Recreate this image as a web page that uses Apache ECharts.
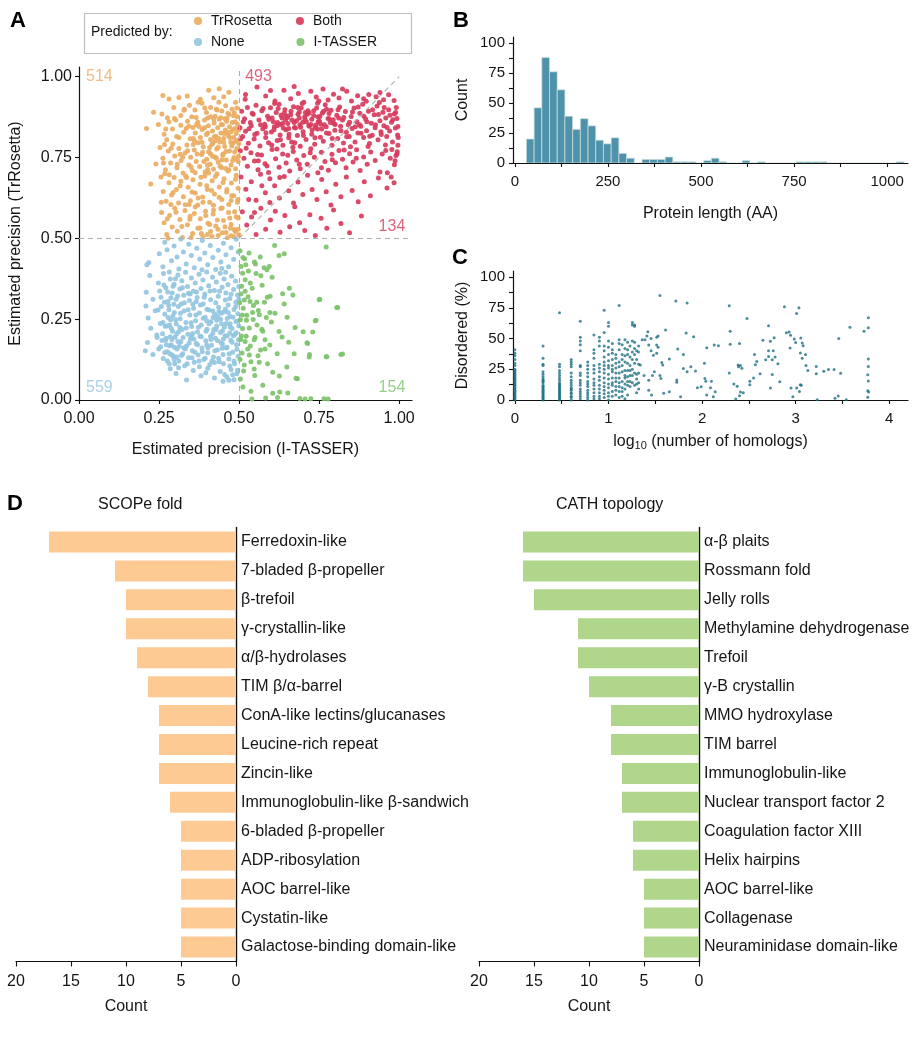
<!DOCTYPE html>
<html><head><meta charset="utf-8">
<script src="https://cdn.jsdelivr.net/npm/echarts@6/dist/echarts.min.js"></script>
<style>html,body{margin:0;padding:0;background:#fff}#c{width:919px;height:1050px}</style>
</head><body><div id="c"></div>
<script>
const FONT = '"Liberation Sans", Arial, Helvetica, sans-serif';

// ---------- Panel A : estimated precision (values in 1/1000) ----------
const trRosettaPts = [
262,942,281,931,338,940,405,958,438,963,468,952,379,930,421,935,452,938,312,936,
233,890,259,885,296,905,318,880,345,912,362,897,384,918,398,889,411,905,425,878,437,921,446,894,458,910,469,883,478,899,489,921,495,876,276,873,352,876,402,872,431,897,462,871,485,888,372,921,329,899,
211,840,248,852,266,822,281,861,292,838,305,815,318,850,327,828,339,862,347,808,356,843,363,826,371,859,379,812,385,837,392,866,398,821,404,848,411,806,417,832,422,857,428,815,433,842,438,868,443,826,448,851,452,809,457,835,461,862,466,818,470,845,474,829,479,858,483,812,487,840,491,824,495,853,498,835,274,805,302,866,335,840,361,800,426,802,456,870,489,800,
253,781,262,748,270,712,279,770,286,733,293,792,299,755,306,718,312,778,319,741,325,702,331,764,337,789,343,727,349,751,354,710,360,773,366,738,372,796,377,722,383,759,388,783,394,705,399,745,405,768,410,729,415,790,420,714,425,752,430,776,435,735,440,798,445,719,450,761,455,784,460,742,465,708,470,770,475,727,480,793,484,750,489,715,493,778,497,738,240,730,267,790,316,760,357,790,402,713,447,743,486,767,499,793,
224,668,256,690,263,645,272,615,281,672,289,634,297,688,304,651,311,609,318,677,326,629,333,694,341,658,348,616,356,681,363,640,371,603,378,667,386,628,393,693,401,651,408,612,416,678,423,637,431,699,438,659,446,620,453,684,461,643,468,605,476,671,483,632,491,695,497,655,287,605,344,605,420,602,475,617,496,620,268,700,
258,580,266,548,274,512,283,571,291,535,299,593,307,522,315,558,323,503,331,586,339,542,347,568,355,515,363,597,371,531,379,561,387,506,395,584,403,547,411,521,419,575,427,538,435,509,443,592,451,555,459,518,467,580,475,543,483,506,491,567,497,528,499,511,488,521,474,508,463,502,415,506,401,512,382,515,350,503,278,500,
392,842,408,781,421,868,436,809,449,757,462,829,477,786,488,861,401,727,418,795,443,873,458,716,471,812,494,745,386,766,429,748,452,797,480,836,367,851,411,761,
257,612,264,733,271,838,276,561,282,697,288,779,294,642,298,871,303,581,307,729,312,812,316,663,321,537,324,751,328,896,332,604,336,688,339,771,343,847,346,559,350,721,353,643,357,809,360,577,363,703,366,874,369,761,372,625,375,846,378,532,381,689,384,797,387,612,390,738,393,903,396,571,399,663,402,826,405,702,408,543,411,876,414,648,417,754,420,588,423,815,426,691,429,899,432,557,435,782,438,627,441,723,444,852,447,594,450,673,453,824,456,536,459,769,462,651,465,887,468,712,471,563,474,798,477,632,480,741,483,879,486,582,489,683,492,803,495,612,498,754,497,563,493,903,485,527,473,531,447,517,434,528
];
const bothPts = [
556,968,583,940,612,925,640,958,661,932,685,948,702,921,724,955,741,937,762,962,778,928,795,946,812,934,836,955,851,925,870,941,889,932,905,945,928,938,951,929,967,944,984,926,520,945,598,957,672,970,749,925,823,962,897,924,940,951,519,930,
508,893,517,870,526,905,535,858,544,884,553,912,562,866,571,895,580,853,589,878,598,904,607,861,616,889,625,915,634,872,643,898,652,855,661,882,670,907,679,864,688,891,697,917,706,869,715,895,724,852,733,880,742,903,751,862,760,888,769,913,778,871,787,896,796,855,805,881,814,906,823,866,832,892,841,851,850,877,859,903,868,861,877,887,886,915,895,869,904,893,913,856,922,882,931,909,940,864,949,890,958,872,967,898,976,859,985,885,993,871,991,905,629,852,690,851,745,918,811,872,876,851,938,920,651,874,707,889,
503,842,511,815,520,831,529,794,538,848,547,807,556,825,565,786,574,839,583,812,592,796,601,829,610,845,619,803,628,820,637,788,646,836,655,811,664,798,673,843,682,818,691,785,700,830,709,806,718,849,727,822,736,791,745,838,754,813,763,800,772,845,781,824,790,788,799,834,808,809,817,847,826,795,835,828,844,815,853,840,862,798,871,826,880,847,889,812,898,833,907,793,916,819,925,842,934,805,943,830,952,848,961,815,970,832,979,798,988,841,995,820,582,845,668,782,739,850,848,783,957,789,
504,771,515,748,526,723,537,765,548,739,559,712,570,758,581,731,592,704,603,775,614,746,625,720,636,761,647,733,658,708,669,769,680,742,691,715,702,756,713,729,724,777,735,751,746,703,757,766,768,738,779,711,790,760,801,734,812,772,823,745,834,718,845,762,856,736,867,774,878,710,889,752,900,729,911,767,925,741,940,705,958,772,972,748,985,728,993,761,987,740,
506,690,521,652,538,675,553,618,567,698,582,641,596,684,611,663,626,625,641,691,655,647,670,609,684,674,699,636,714,695,728,651,743,620,758,682,772,644,787,603,802,667,818,629,835,690,853,648,872,613,891,675,910,632,935,687,962,656,984,672,
510,582,524,541,539,566,553,512,568,593,583,528,598,557,613,584,628,519,643,571,658,536,674,598,689,548,705,524,721,573,738,509,756,562,774,531,795,588,818,546,845,517,882,569,
603,872,618,848,631,881,645,866,662,893,676,841,688,872,699,859,713,884,727,868,738,842,752,877,766,851,781,886,794,867,609,836,641,887,672,858,705,876,733,895,758,838,785,858,622,902,655,840,694,903,719,847,747,861,773,899,636,855,684,884,
505,808,513,861,522,779,531,839,541,887,549,821,558,759,567,851,575,902,584,827,593,868,602,789,611,917,620,858,629,805,638,841,647,879,656,822,665,866,674,796,683,905,692,844,701,818,710,861,719,888,728,835,737,811,746,875,755,853,764,893,773,826,782,869,791,809,800,852,809,898,818,833,827,874,836,814,845,859,854,891,863,845,872,906,881,825,890,878,899,861,908,816,917,898,926,851,935,883,944,821,953,905,962,843,971,881,980,867,989,889,996,846,560,740,587,724,618,776,652,757,688,729,722,765,757,718,791,743,828,773,866,748,903,784,947,761,977,775,996,788,997,812,994,768,990,756,975,690,963,703,530,620,548,580,571,663,596,611,627,688
];
const nonePts = [
212,418,218,425,251,452,268,488,275,465,289,431,297,476,306,442,318,498,326,458,335,421,343,482,351,447,360,409,368,469,377,436,385,493,393,455,402,418,410,478,418,441,427,404,435,463,443,427,451,485,459,449,467,412,475,471,483,435,491,497,497,458,262,412,312,405,384,403,446,407,
210,333,221,385,248,362,256,318,264,391,271,347,278,305,285,374,291,331,297,358,303,312,309,387,315,343,321,369,327,324,333,395,339,351,345,308,351,377,357,336,363,362,369,317,375,389,381,345,387,371,393,328,399,396,405,353,411,310,417,380,423,339,429,365,435,321,441,392,447,349,453,374,459,331,465,357,471,314,477,383,483,342,489,368,495,325,499,351,282,396,301,375,342,330,366,305,458,395,490,302,
209,291,216,254,224,222,247,278,254,237,261,205,268,266,274,229,280,292,286,248,292,213,298,271,304,235,310,289,316,251,322,218,328,275,334,240,340,203,346,263,352,227,358,284,364,245,370,210,376,269,382,232,388,297,394,256,400,219,406,278,412,242,418,206,424,265,430,229,436,287,442,250,448,214,454,273,460,237,466,294,472,258,478,221,484,280,490,243,496,267,499,229,283,232,319,297,355,206,399,245,433,258,457,281,471,207,293,260,315,224,
207,152,214,178,231,141,244,193,255,165,263,128,270,185,276,149,282,112,288,171,294,136,300,194,306,158,312,121,318,180,324,143,330,106,336,167,342,131,348,189,354,152,360,117,366,175,372,139,378,197,384,161,390,125,396,183,402,146,408,109,414,169,420,133,426,191,432,155,438,118,444,177,450,141,456,199,462,163,468,127,474,185,480,148,486,112,492,171,497,135,285,196,297,125,309,181,327,162,351,198,375,121,399,170,423,116,447,160,471,105,
285,97,303,82,336,62,357,91,381,75,402,98,423,68,441,88,462,71,475,94,484,63,493,81,311,100,396,84,450,58,
268,147,276,121,283,168,291,139,299,112,305,205,288,222,272,191,262,240,278,255,411,197,428,218,445,236,463,252,482,199,451,189,437,274,419,255,472,226,491,208,
231,312,238,276,243,201,249,158,252,337,257,289,259,184,265,356,267,302,269,228,273,171,277,334,281,279,284,143,287,316,290,187,294,352,296,296,298,163,302,248,305,133,308,322,311,211,313,166,317,268,320,138,323,347,325,193,329,301,332,158,335,223,338,112,341,279,344,176,347,328,350,239,353,131,356,296,359,189,362,148,365,263,367,334,370,171,373,225,376,103,379,294,382,196,385,149,388,253,391,318,394,129,397,213,400,281,403,162,406,236,409,337,412,187,415,121,418,275,421,218,424,152,427,301,430,247,433,183,436,129,439,336,442,209,445,268,448,173,451,112,454,226,457,309,460,161,463,198,466,271,469,143,472,236,475,327,478,179,481,256,484,121,487,203,490,289,493,157,496,244,498,186,499,312,495,92,480,78,468,61,455,79
];
const itasserPts = [
503,462,512,441,521,418,531,455,548,427,566,442,578,409,594,413,611,478,625,447,641,452,511,392,519,372,535,362,553,391,572,355,587,403,603,380,636,329,657,346,
506,328,516,309,528,319,545,292,560,277,579,302,597,321,612,268,641,297,668,325,510,263,523,247,542,271,556,232,571,219,585,255,601,241,625,212,650,256,675,224,
700,211,738,245,752,312,808,286,507,198,519,181,535,167,550,193,567,155,581,186,596,170,619,143,634,195,655,179,672,143,712,177,719,133,772,134,823,142,
503,125,516,108,532,139,547,96,563,117,589,112,605,86,626,74,649,102,682,66,504,65,512,40,537,27,549,76,574,46,605,21,627,25,652,22,690,5,706,3,724,4,765,4,778,3,540,3,583,6,620,8,
772,473,805,286,818,141,750,310,740,247,774,134,730,210,714,175,720,141,678,67,
502,301,504,248,505,187,506,413,508,352,509,145,511,221,513,284,514,90,517,437,519,336,522,197,524,262,527,158,529,399,532,223,534,305,537,118,541,346,544,249,547,186,551,421,555,302,559,137,563,264,568,384,574,213,581,158,588,318,596,271
];
const quadrantCounts = ['514', '493', '134', '559', '154'];
const groupNames = ['TrRosetta', 'Both', 'None', 'I-TASSER'];
const groupColors = ['#EAAD62', '#D73B5C', '#93C6E0', '#7CC36A'];
const precisionThreshold = 0.5;
const precisionTicks = [0, 0.25, 0.5, 0.75, 1];

// ---------- Panel B : protein length histogram ----------
const lenBinStart = 31;
const lenBinWidth = 20.7;
const lenCounts = [20,46,88,76,61,39,28,37,31,19,16,21,8,4,0,3,3,3,5,1,1,1,0,2,4,1,0,0,2,0,1,0,0,0,0,1,1,1,1,0,0,0,0,0,0,0,0,0,1];
const lenTicks = [0,125,250,375,500,625,750,875,1000];
const lenLabels = [0,250,500,750,1000];
const countTicks = [0,12.5,25,37.5,50,62.5,75,87.5,100];
const countLabels = [0,25,50,75,100];

// ---------- Panel C : disorder vs homologs ----------
const colX = [0,0.301,0.477,0.602,0.699,0.778,0.845,0.903,0.954,1.0,1.041,1.079,1.114,1.146,1.176,1.204,1.23,1.255,1.279,1.301,1.322];
const colY = [
[41,38,36,33,30,28,25,24,23,22,21,20,19,18,17,16,15,14,13,12,11,10,9,8,7,6,5,4,3,2,1,0],
[44,34,29,28,23,21,19,17,16,15,14,12,11,10,9,8,7,6,5,4,3,2,1,0],
[71,29,27,24,22,20,18,16,14,13,12,11,10,9,8,7,6,5,4,3,2,1,0],
[33,31,29,27,22,19,16,14,12,10,9,8,6,5,3,2,0],
[64,51,48,45,40,28,27,22,20,16,14,12,9,7,5,3,1],
[31,28,25,22,19,15,13,11,8,6,4,2,0],
[53,41,38,34,28,25,22,17,14,12,9,6,3,1],
[51,48,44,29,26,23,19,16,12,9,6,3,1],
[73,55,44,40,35,31,28,25,22,18,14,11,8,5,2],
[63,60,48,43,37,32,28,26,21,17,13,10,6,3,0],
[46,41,38,33,28,25,23,18,14,12,7,3],
[37,34,30,26,22,18,15,11,8,4],
[77,49,46,41,31,27,22,18,14,11,7,2],
[45,37,33,28,23,15,10,7,3],
[49,42,36,31,24,20,18,13,9,1],
[47,41,37,30,24,19,15,12,4],
[44,35,28,24,20,15,11],
[63,61,48,39,33,25,20,14],
[61,60,47,42,37,30,22,12],
[40,33,21,17,13,6],
[44,29,22,14,9]
];
const homScatter = [
1.55,85,1.72,80.5,1.84,79,1.83,54.6,1.91,51.4,1.61,56.9,1.42,55.5,1.41,52,1.53,52,1.515,51,2.05,42.5,2.13,44.7,1.74,41.5,1.80,37,1.65,33.4,1.80,25.7,1.84,23,1.88,27,1.93,23.6,2.025,30,2.03,17.6,1.95,10,1.99,10.8,2.09,10,1.73,16.3,1.73,14.4,1.77,2.7,1.59,5.4,1.65,6.8,1.43,8,1.46,4,2.14,6.8,2.12,2.7,2.05,4,1.515,38,1.48,36.5,1.455,40,1.43,44.7,1.36,49,1.32,39,1.34,28.5,1.38,20,1.43,16,1.47,20,1.55,20,1.49,23,1.56,17.6,1.58,28.5,1.57,30.6,1.455,50,1.39,49,1.515,44.7,1.53,43,
2.29,76.7,2.88,75.9,3.035,75,3.01,70.5,2.48,66.4,3.776,67,3.776,58.8,3.73,56,3.58,59.3,2.30,56,2.71,60.4,2.90,54.7,2.93,55.3,2.945,52.8,2.985,49.6,3.055,50.4,3.0,46.9,3.07,46.3,3.08,44.2,2.94,42.3,2.77,50.6,2.73,47.9,2.65,48.7,2.71,40,2.76,40,3.05,38.2,3.105,37,2.56,37,2.585,31.4,2.57,28.7,2.68,32.8,2.71,35.5,2.75,32.8,2.78,35,2.81,29.5,3.07,33.9,3.11,28,3.13,24,3.22,27.3,3.22,21.3,3.30,23.5,3.35,24.8,3.41,24.8,3.48,21.7,3.46,50,3.776,33.3,3.776,27.3,3.77,20.6,3.776,15.4,3.77,7.6,3.78,6.5,3.77,2.2,2.175,44.2,2.40,45.9,2.30,45.3,2.04,15.2,2.10,15.2,2.29,22,2.385,28.5,2.41,28,2.425,25.8,2.39,27,2.34,13,2.375,11.1,2.41,6.5,2.44,6,2.40,3.5,2.36,0.8,2.51,15.2,2.55,18,2.51,12.5,2.62,21.3,2.75,20.8,2.83,14.9,2.73,9.7,2.95,9.7,2.97,2.7,3.01,9.7,3.04,7,3.05,12.5,3.06,12,3.23,0.3,3.42,1.4,3.455,3.3,3.54,0.3
];
const homTicks = [0,0.5,1,1.5,2,2.5,3,3.5,4];
const homLabels = [0,1,2,3,4];

// ---------- Panel D : fold / topology counts ----------
const scopeFolds = ['Ferredoxin-like','7-bladed β-propeller','β-trefoil','γ-crystallin-like','α/β-hydrolases','TIM β/α-barrel','ConA-like lectins/glucanases','Leucine-rich repeat','Zincin-like','Immunoglobulin-like β-sandwich','6-bladed β-propeller','ADP-ribosylation','AOC barrel-like','Cystatin-like','Galactose-binding domain-like'];
const scopeCounts = [17,11,10,10,9,8,7,7,7,6,5,5,5,5,5];
const cathTopologies = ['α-β plaits','Rossmann fold','Jelly rolls','Methylamine dehydrogenase','Trefoil','γ-B crystallin','MMO hydroxylase','TIM barrel','Immunoglobulin-like','Nuclear transport factor 2','Coagulation factor XIII','Helix hairpins','AOC barrel-like','Collagenase','Neuraminidase domain-like'];
const cathCounts = [16,16,15,11,11,10,8,8,7,7,6,6,5,5,5];

// ---------- helpers ----------
function pairs(flat, scale) { const r = []; for (let i = 0; i < flat.length; i += 2) r.push([flat[i] / scale, flat[i + 1] / scale]); return r; }
const TXT = '#151515';
const axLine = { show: true, onZero: false, lineStyle: { color: '#111', width: 1.2 } };
const nameStyle = { fontSize: 16, color: TXT, fontFamily: FONT };
function valAxis(grid, min, max, ticks, labels, fmt, fs, margin, extra) {
  return Object.assign({
    gridIndex: grid, type: 'value', min: min, max: max,
    axisLine: axLine,
    axisTick: { show: true, length: 4, lineStyle: { color: '#111', width: 1.1 }, customValues: ticks },
    axisLabel: { customValues: labels, formatter: fmt, fontSize: fs, color: TXT, margin: margin, fontFamily: FONT },
    splitLine: { show: false }, nameTextStyle: nameStyle, nameLocation: 'middle'
  }, extra || {});
}

const aData = [trRosettaPts, bothPts, nonePts, itasserPts].map(a => pairs(a, 1000));
const lenData = lenCounts.map((c, i) => [lenBinStart + i * lenBinWidth, lenBinStart + (i + 1) * lenBinWidth, c]);
const homData = [];
colX.forEach((x, i) => colY[i].forEach(y => homData.push([x, y])));
pairs(homScatter, 1).forEach(p => homData.push(p));

const legendText = { fontSize: 14, color: TXT, fontFamily: FONT, padding: [0, 0, 0, 4] };
const option = {
  animation: false,
  backgroundColor: '#fff',
  textStyle: { fontFamily: FONT },
  grid: [
    { left: 79, top: 67, width: 333, height: 333 },
    { left: 513, top: 37, width: 395, height: 126 },
    { left: 513, top: 271, width: 395, height: 129 },
    { left: 16, top: 527.5, width: 220, height: 434 },
    { left: 479, top: 527.5, width: 220, height: 434 }
  ],
  legend: [
    { data: groupNames.slice(0, 2), left: 189, top: 9, padding: 5, itemWidth: 8, itemHeight: 8, itemGap: 24, icon: 'circle', selectedMode: false, textStyle: legendText },
    { data: groupNames.slice(2, 4), left: 189, top: 30, padding: 5, itemWidth: 8, itemHeight: 8, itemGap: 52, icon: 'circle', selectedMode: false, textStyle: legendText }
  ],
  xAxis: [
    valAxis(0, 0, 1.04, precisionTicks, precisionTicks, v => v.toFixed(2), 16, 11, { name: 'Estimated precision (I-TASSER)', nameGap: 42 }),
    valAxis(1, -5, 1056, lenTicks, lenLabels, v => String(v), 15, 11, { name: 'Protein length (AA)', nameGap: 43 }),
    valAxis(2, -0.02, 4.2, homTicks, homLabels, v => String(v), 15, 11, {
      name: 'log{s|10} (number of homologs)', nameGap: 33,
      nameTextStyle: { fontSize: 16, color: TXT, fontFamily: FONT, rich: { s: { fontSize: 11, color: TXT, fontFamily: FONT, padding: [7, 0, 0, 0] } } } }),
    { gridIndex: 3, type: 'value', inverse: true, min: 0, max: 20, interval: 5,
      axisLine: axLine, axisTick: { show: true, length: 5, lineStyle: { color: '#111', width: 1.1 } },
      axisLabel: { fontSize: 16, color: TXT, margin: 12, fontFamily: FONT }, splitLine: { show: false },
      name: 'Count', nameLocation: 'middle', nameGap: 37, nameTextStyle: nameStyle },
    { gridIndex: 4, type: 'value', inverse: true, min: 0, max: 20, interval: 5,
      axisLine: axLine, axisTick: { show: true, length: 5, lineStyle: { color: '#111', width: 1.1 } },
      axisLabel: { fontSize: 16, color: TXT, margin: 12, fontFamily: FONT }, splitLine: { show: false },
      name: 'Count', nameLocation: 'middle', nameGap: 37, nameTextStyle: nameStyle }
  ],
  yAxis: [
    valAxis(0, 0, 1.03, precisionTicks, precisionTicks, v => v.toFixed(2), 16, 7, { name: 'Estimated precision (TrRosetta)', nameGap: 55, nameRotate: 90 }),
    valAxis(1, 0, 105, countTicks, countLabels, v => String(v), 15, 8, { name: 'Count', nameGap: 42, nameRotate: 90 }),
    valAxis(2, 0, 105, countTicks, countLabels, v => String(v), 15, 8, { name: 'Disordered (%)', nameGap: 42, nameRotate: 90 }),
    { gridIndex: 3, type: 'category', inverse: true, position: 'right', data: scopeFolds,
      axisLine: { show: true, lineStyle: { color: '#111', width: 1.4 } }, axisTick: { show: false },
      axisLabel: { fontSize: 16, color: TXT, margin: 5, fontFamily: FONT } },
    { gridIndex: 4, type: 'category', inverse: true, position: 'right', data: cathTopologies,
      axisLine: { show: true, lineStyle: { color: '#111', width: 1.4 } }, axisTick: { show: false },
      axisLabel: { fontSize: 16, color: TXT, margin: 5, fontFamily: FONT } }
  ],
  series: [
    ...groupNames.map((n, i) => ({
      name: n, type: 'scatter', xAxisIndex: 0, yAxisIndex: 0, data: aData[i], symbolSize: 5,
      itemStyle: { color: groupColors[i], opacity: 0.92 }, silent: true
    })),
    { type: 'scatter', xAxisIndex: 0, yAxisIndex: 0, data: [], z: 5, silent: true,
      markLine: { silent: true, symbol: 'none', animation: false, label: { show: false },
        lineStyle: { type: [5, 4], color: '#AFAFAF', width: 1.1 },
        data: [
          [{ coord: [0, precisionThreshold] }, { coord: [1.04, precisionThreshold] }],
          [{ coord: [precisionThreshold, 0] }, { coord: [precisionThreshold, 1.03] }],
          [{ coord: [precisionThreshold, precisionThreshold] }, { coord: [1, 1] }]
        ] } },
    { type: 'scatter', xAxisIndex: 0, yAxisIndex: 0, symbolSize: 0, silent: true, z: 6,
      data: [
        { value: [0.022, 1.0], label: { show: true, formatter: quadrantCounts[0], position: 'right', distance: 0, color: groupColors[0] } },
        { value: [0.519, 1.0], label: { show: true, formatter: quadrantCounts[1], position: 'right', distance: 0, color: groupColors[1] } },
        { value: [1.019, 0.535], label: { show: true, formatter: quadrantCounts[2], position: 'left', distance: 0, color: groupColors[1] } },
        { value: [0.022, 0.037], label: { show: true, formatter: quadrantCounts[3], position: 'right', distance: 0, color: groupColors[2] } },
        { value: [1.019, 0.037], label: { show: true, formatter: quadrantCounts[4], position: 'left', distance: 0, color: groupColors[3] } }
      ],
      label: { fontSize: 16, fontFamily: FONT } },
    { type: 'custom', xAxisIndex: 1, yAxisIndex: 1, data: lenData, encode: { x: [0, 1], y: 2 }, clip: true, silent: true,
      renderItem: function (params, api) {
        const p0 = api.coord([api.value(0), api.value(2)]);
        const p1 = api.coord([api.value(1), 0]);
        return { type: 'rect', shape: { x: p0[0], y: p0[1], width: p1[0] - p0[0], height: p1[1] - p0[1] },
          style: { fill: '#4E93AB', stroke: '#D3E2DC', lineWidth: 0.7 } };
      } },
    { type: 'scatter', xAxisIndex: 2, yAxisIndex: 2, data: homData, symbolSize: 3, silent: true,
      itemStyle: { color: '#1F6F82' } },
    { type: 'bar', xAxisIndex: 3, yAxisIndex: 3, data: scopeCounts, barWidth: 21, silent: true, itemStyle: { color: '#FDCA93' } },
    { type: 'bar', xAxisIndex: 4, yAxisIndex: 4, data: cathCounts, barWidth: 21, silent: true, itemStyle: { color: '#AFD68B' } }
  ],
  graphic: [
    { type: 'rect', left: 82, top: 11, shape: { width: 327, height: 40 }, style: { fill: 'none', stroke: '#BDBDBD', lineWidth: 1.2 }, silent: true },
    { type: 'text', left: 91, top: 25, style: { text: 'Predicted by:', fontSize: 14, fill: TXT, fontFamily: FONT } },
    { type: 'text', left: 10, top: 10, style: { text: 'A', fontSize: 22, fontWeight: 'bold', fill: '#000', fontFamily: FONT } },
    { type: 'text', left: 453, top: 10, style: { text: 'B', fontSize: 22, fontWeight: 'bold', fill: '#000', fontFamily: FONT } },
    { type: 'text', left: 452, top: 247, style: { text: 'C', fontSize: 22, fontWeight: 'bold', fill: '#000', fontFamily: FONT } },
    { type: 'text', left: 7, top: 493, style: { text: 'D', fontSize: 22, fontWeight: 'bold', fill: '#000', fontFamily: FONT } },
    { type: 'text', left: 98, top: 497, style: { text: 'SCOPe fold', fontSize: 16, fill: TXT, fontFamily: FONT } },
    { type: 'text', left: 556, top: 497, style: { text: 'CATH topology', fontSize: 16, fill: TXT, fontFamily: FONT } }
  ]
};
const chart = echarts.init(document.getElementById('c'));
chart.setOption(option);
</script></body></html>
